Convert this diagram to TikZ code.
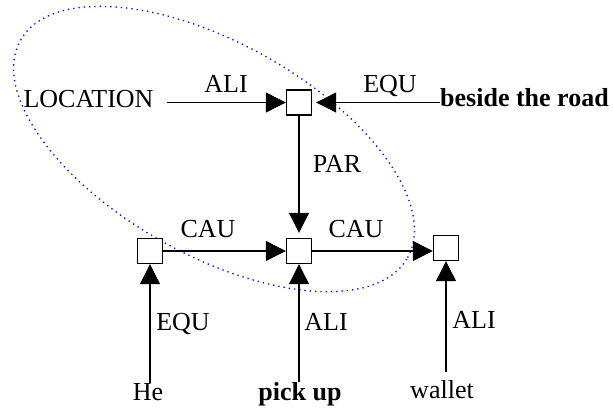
\documentclass[tikz,border=0pt]{standalone}
\usepackage{fontspec}
\setmainfont{Liberation Serif}
\usetikzlibrary{arrows.meta, positioning, calc}
\definecolor{lingblue}{RGB}{0,0,255}

\begin{document}
\begin{tikzpicture}[x=0.5pt, y=-0.5pt, font=\fontsize{13}{15}\selectfont,
        concept/.style={rectangle, draw, line width=0.7pt, fill=white,
                        minimum size=12.5pt, inner sep=0pt},
        word/.style={inner sep=0pt, anchor=base},
        rel/.style={draw, line width=0.55pt, -{Triangle[length=10pt, width=10pt]}},
        scopering/.style={draw=lingblue, dotted, line width=0.65pt}
    ]
        \useasboundingbox (0,0) rectangle (613,410);

        \coordinate (ring) at (214,149);
        \draw[scopering, rotate around={-29.3:(ring)}] (ring) ellipse [x radius=111pt, y radius=53pt];

        \node[concept] (place) at (299,102.5) {};
        \node[concept] (act)   at (299,251)   {};
        \node[concept] (agt)   at (150,251)   {};
        \node[concept] (obj)   at (446,248)   {};

        \node[word] (loc)    at (88.5,108) {LOCATION};
        \node[word] (beside) at (524.5,107) {\textbf{beside the road}};
        \node[word] (he)     at (148,400) {He};
        \node[word] (pick)   at (300,400) {\textbf{pick up}};
        \node[word] (wallet) at (442,398) {wallet};

        \node[word] at (226,93)  {ALI};
        \node[word] at (390,93)  {EQU};
        \node[word] at (337,173) {PAR};
        \node[word] at (208,238) {CAU};
        \node[word] at (356,238) {CAU};
        \node[word] at (183,330) {EQU};
        \node[word] at (326,330) {ALI};
        \node[word] at (474,328) {ALI};

        \draw[rel, shorten <=6.5pt] (loc.east |- place.west) -- (place.west);
        \draw[rel, shorten >=2pt] (beside.west |- place.east) -- (place.east);
        \draw[rel, shorten >=2.5pt] (place) -- (act);
        \draw[rel] (agt) -- (act);
        \draw[rel] (act) -- (act -| obj.west);
        \draw[rel] (agt |- he.north) -- (agt);
        \draw[rel] (act |- pick.north) -- (act);
        \draw[rel, shorten <=4pt] (obj |- wallet.north) -- (obj);
    \end{tikzpicture}
\end{document}
